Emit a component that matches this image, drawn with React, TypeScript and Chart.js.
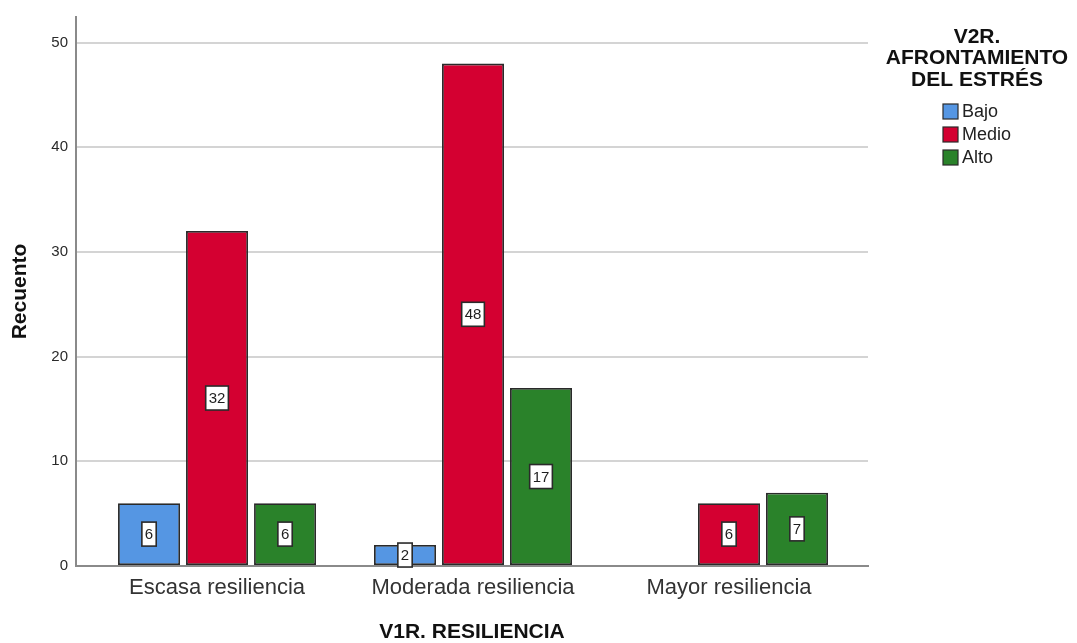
import React, { useEffect, useRef } from "react";
import { Chart, registerables } from "chart.js";

Chart.register(...registerables);

const categories = ["Escasa resiliencia", "Moderada resiliencia", "Mayor resiliencia"];
const seriesNames = ["Bajo", "Medio", "Alto"];
const bajo: (number | null)[] = [6, 2, null];
const medio: (number | null)[] = [32, 48, 6];
const alto: (number | null)[] = [6, 17, 7];
const yTicks = [0, 10, 20, 30, 40, 50];
const legendTitle = ["V2R.", "AFRONTAMIENTO", "DEL ESTRÉS"];
const xTitle = "V1R. RESILIENCIA";
const yTitle = "Recuento";

const colors = ["#5596E3", "#D40031", "#2A822A"];
const FONT = "'Liberation Sans', Arial, sans-serif";

const labelPlugin = {
  id: "barLabels",
  afterDatasetsDraw(chart: any) {
    const ctx = chart.ctx;
    ctx.save();
    ctx.font = `15px ${FONT}`;
    ctx.textAlign = "center";
    ctx.textBaseline = "middle";
    chart.data.datasets.forEach((ds: any, di: number) => {
      const meta = chart.getDatasetMeta(di);
      meta.data.forEach((el: any, i: number) => {
        const v = ds.data[i]?.y;
        if (v === null || v === undefined || v === 0) return;
        const cx = el.x;
        const cy = (el.y + el.base) / 2;
        const text = String(v);
        const tw = ctx.measureText(text).width;
        const w = tw + 6;
        const h = 24;
        ctx.fillStyle = "#ffffff";
        ctx.fillRect(cx - w / 2, cy - h / 2, w, h);
        ctx.strokeStyle = "#2a2a2a";
        ctx.lineWidth = 1.6;
        ctx.strokeRect(cx - w / 2, cy - h / 2, w, h);
        ctx.fillStyle = "#1e1e1e";
        ctx.fillText(text, cx, cy + 1);
      });
    });
    ctx.restore();
  },
};

const legendPlugin = {
  id: "customLegend",
  afterDraw(chart: any) {
    const ctx = chart.ctx;
    ctx.save();
    ctx.fillStyle = "#111111";
    ctx.textAlign = "center";
    ctx.textBaseline = "middle";
    ctx.font = `bold 21px ${FONT}`;
    const cx = 977;
    legendTitle.forEach((t, i) => {
      ctx.fillText(t, cx, 37 + i * 21.5);
    });
    ctx.font = `18px ${FONT}`;
    ctx.textAlign = "left";
    chart.data.datasets.forEach((ds: any, i: number) => {
      const y = 112 + i * 23;
      ctx.fillStyle = ds.backgroundColor;
      ctx.fillRect(943, y - 8, 15, 15);
      ctx.strokeStyle = "#2a2a2a";
      ctx.lineWidth = 1.2;
      ctx.strokeRect(943, y - 8, 15, 15);
      ctx.fillStyle = "#222222";
      ctx.fillText(ds.label, 962, y);
    });
    ctx.restore();
  },
};

export default function App() {
  const ref = useRef<HTMLCanvasElement | null>(null);

  useEffect(() => {
    if (!ref.current) return;
    const series = [bajo, medio, alto];
    const chart = new Chart(ref.current, {
      type: "bar",
      data: {
        datasets: series.map((vals, si) => ({
          label: seriesNames[si],
          data: vals.map((v, i) => ({ x: i, y: v })),
          backgroundColor: colors[si],
          borderColor: "#2a2a2a",
          borderWidth: 1.8,
          borderSkipped: false,
          categoryPercentage: 0.797,
          barPercentage: 0.912,
        })),
      },
      options: {
        responsive: false,
        animation: false,
        layout: { padding: { top: 15, right: 209, left: 0, bottom: 0 } },
        plugins: {
          legend: { display: false },
          tooltip: { enabled: false },
          title: { display: false },
        },
        scales: {
          x: {
            type: "linear",
            offset: false,
            bounds: "ticks",
            min: -0.551,
            max: 2.543,
            afterBuildTicks: (scale: any) => {
              scale.ticks = categories.map((_, i) => ({ value: i }));
            },
            afterFit: (scale: any) => {
              scale.height = 77;
            },
            grid: { display: false, drawTicks: false, offset: false },
            border: { display: true, color: "#8a8a8a", width: 2 },
            ticks: {
              padding: 9,
              color: "#333333",
              font: { family: FONT, size: 22 },
              callback: (v: any) => categories[Number(v)] ?? "",
              maxRotation: 0,
              autoSkip: false,
            },
            title: {
              display: true,
              text: xTitle,
              color: "#111111",
              font: { family: FONT, size: 21, weight: "bold", lineHeight: 1 },
              padding: { top: 0, bottom: 0 },
            },
          },
          y: {
            min: 0,
            max: 52.45,
            afterBuildTicks: (scale: any) => {
              scale.ticks = yTicks.map((v) => ({ value: v }));
            },
            afterFit: (scale: any) => {
              scale.width = 76;
            },
            grid: { color: "#d4d4d4", lineWidth: 2, drawTicks: false },
            border: { display: true, color: "#8a8a8a", width: 2 },
            ticks: {
              padding: 8,
              color: "#2a2a2a",
              font: { family: FONT, size: 15 },
            },
            title: {
              display: true,
              text: yTitle,
              color: "#111111",
              font: { family: FONT, size: 21, weight: "bold", lineHeight: 1.2 },
              padding: { top: 8, bottom: 0 },
            },
          },
        },
      },
      plugins: [labelPlugin, legendPlugin],
    } as any);
    return () => chart.destroy();
  }, []);

  return (
    <div style={{ position: "absolute", left: 0, top: 0, width: 1077, height: 643, background: "#ffffff" }}>
      <canvas ref={ref} width={1077} height={643} style={{ display: "block", width: 1077, height: 643 }} />
    </div>
  );
}
